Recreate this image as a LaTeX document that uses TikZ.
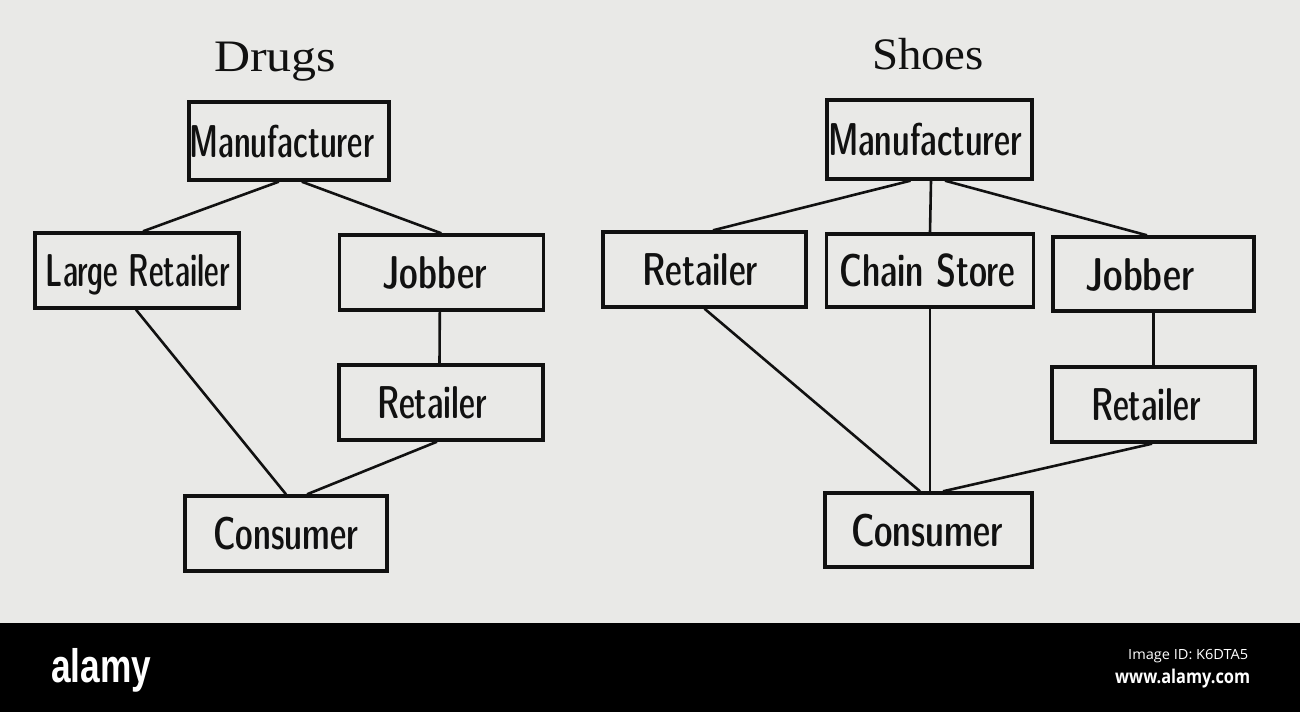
\documentclass[tikz,border=0pt]{standalone}
\usepackage{fontspec}
\usepackage{graphicx}
\newfontfamily\wmfont{Liberation Sans}
\newfontfamily\wmsmall{Open Sans}
\newfontfamily\titlefont{Liberation Serif}
\definecolor{paper}{HTML}{E9E9E7}
\definecolor{ink}{HTML}{111111}
\newcommand\fitw[2]{\resizebox{#1pt}{\height}{#2}}
\tikzset{
  box/.style={draw=ink, line width=3.4pt, inner sep=0pt},
  lbl/.style={font=\sffamily\fontseries{sbc}\fontsize{46}{46}\selectfont, text=ink, anchor=base, inner sep=0pt},
  ttl/.style={font=\titlefont\fontsize{45}{45}\selectfont, text=ink, anchor=base, inner sep=0pt},
  conn/.style={draw=ink, line width=2.6pt},
  wm/.style={text=white, anchor=base west, inner sep=0pt}
}
\begin{document}
\begin{tikzpicture}[x=1pt,y=-1pt]
\useasboundingbox (0,0) rectangle (1300,712);
\fill[paper] (0,0) rectangle (1300,623);
\fill[black] (0,623) rectangle (1300,712);

% ---------- Drugs ----------
\node[ttl] (drugs) at (275,71) {\fitw{122}{Drugs}};
\node[box, minimum width=200pt, minimum height=78pt] (dm) at (288.8,141) {};
\node[box, minimum width=204pt, minimum height=75pt] (dlr) at (137,270.5) {};
\node[box, minimum width=204pt, minimum height=75pt] (dj) at (441.3,272.5) {};
\node[box, minimum width=204pt, minimum height=75pt] (dr) at (441,402.5) {};
\node[box, minimum width=202pt, minimum height=75pt] (dc) at (286,533.5) {};

\node[lbl] (dm-t) at ([xshift=-7pt,yshift=-16pt]dm.center) {\fitw{185}{Manufacturer}};
\node[lbl] (dlr-t) at ([xshift=1pt,yshift=-16pt]dlr.center) {\fitw{184}{Large Retailer}};
\node[lbl] (dj-t) at ([xshift=-6.6pt,yshift=-16pt]dj.center) {\fitw{105}{Jobber}};
\node[lbl] (dr-t) at ([xshift=-9pt,yshift=-16pt]dr.center) {\fitw{110}{Retailer}};
\node[lbl] (dc-t) at ([xshift=0pt,yshift=-16pt]dc.center) {\fitw{145}{Consumer}};

\draw[conn] ([xshift=-10pt]dm.south) -- ([xshift=6pt]dlr.north);
\draw[conn] ([xshift=13pt]dm.south) -- (dj.north);
\draw[conn] ([xshift=-1pt]dlr.south) -- (dc.north);
\draw[conn] ([xshift=-1.5pt]dj.south) -- ([xshift=-1.5pt]dr.north);
\draw[conn] ([xshift=-4pt]dr.south) -- ([xshift=21pt]dc.north);

% ---------- Shoes ----------
\node[ttl] (shoes) at (928,69) {\fitw{112}{Shoes}};
\node[box, minimum width=205pt, minimum height=79pt] (sm) at (929.5,139.5) {};
\node[box, minimum width=203pt, minimum height=75pt] (sr) at (704.5,269.5) {};
\node[box, minimum width=207pt, minimum height=73pt] (sc) at (930,270.5) {};
\node[box, minimum width=201pt, minimum height=74pt] (sj) at (1153.5,274) {};
\node[box, minimum width=203pt, minimum height=75pt] (sr2) at (1153.5,404.5) {};
\node[box, minimum width=207pt, minimum height=74pt] (sco) at (928.5,530) {};

\node[lbl] (sm-t) at ([xshift=-4.5pt,yshift=-16pt]sm.center) {\fitw{194}{Manufacturer}};
\node[lbl] (sr-t) at ([xshift=-4.5pt,yshift=-16pt]sr.center) {\fitw{116}{Retailer}};
\node[lbl] (sc-t) at ([xshift=-3pt,yshift=-16pt]sc.center) {\fitw{176}{Chain Store}};
\node[lbl] (sj-t) at ([xshift=-13.5pt,yshift=-16pt]sj.center) {\fitw{110}{Jobber}};
\node[lbl] (sr2-t) at ([xshift=-7.5pt,yshift=-16pt]sr2.center) {\fitw{110}{Retailer}};
\node[lbl] (sco-t) at ([xshift=-1.5pt,yshift=-16pt]sco.center) {\fitw{152}{Consumer}};

\draw[conn] ([xshift=-19pt]sm.south) -- ([xshift=8.5pt]sr.north);
\draw[conn] ([xshift=1.5pt]sm.south) -- (sc.north);
\draw[conn] ([xshift=15.5pt]sm.south) -- ([xshift=-6.5pt]sj.north);
\draw[conn] (sr.south) -- ([xshift=-8.5pt]sco.north);
\draw[conn] (sc.south) -- (sc.south |- sco.north);
\draw[conn] (sj.south) -- (sj.south |- sr2.north);
\draw[conn] ([xshift=-1.5pt]sr2.south) -- ([xshift=14.5pt]sco.north);

% ---------- watermark band ----------
\node[wm, font=\wmfont\bfseries\fontsize{47}{47}\selectfont] (alamy) at (51,682) {\fitw{100}{alamy}};
\node[wm, font=\wmsmall\fontsize{14}{14}\selectfont] (imgid) at (1128,659) {\fitw{120}{Image ID: K6DTA5}};
\node[wm, font=\wmsmall\bfseries\fontsize{19}{19}\selectfont] (www) at (1115,683) {\fitw{135}{www.alamy.com}};
\end{tikzpicture}
\end{document}
